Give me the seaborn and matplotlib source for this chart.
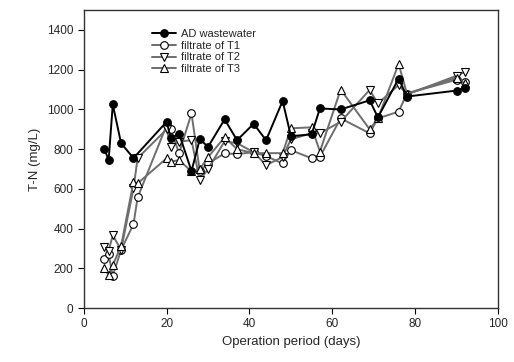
import numpy as np
import pandas as pd
import seaborn as sns
import matplotlib.pyplot as plt

# values
ad_days = [5, 6, 7, 9, 12, 20, 21, 23, 26, 28, 30, 34, 37, 41, 44, 48, 50, 55, 57, 62, 69, 71, 76, 78, 90, 92]
ad_tn   = [800, 745, 1025, 830, 755, 938, 855, 878, 690, 850, 812, 950, 845, 928, 845, 1043, 865, 875, 1005, 1000, 1046, 960, 1155, 1065, 1095, 1110]

t1_days = [5, 6, 7, 9, 12, 13, 20, 21, 23, 26, 28, 30, 34, 37, 41, 44, 48, 50, 55, 57, 62, 69, 71, 76, 78, 90, 92]
t1_tn   = [245, 270, 163, 292, 423, 557, 921, 900, 779, 980, 690, 728, 779, 775, 785, 765, 728, 795, 754, 762, 955, 880, 955, 989, 1080, 1150, 1140]

t2_days = [5, 6, 7, 9, 12, 13, 20, 21, 23, 26, 28, 30, 34, 37, 41, 44, 48, 50, 55, 57, 62, 69, 71, 76, 78, 90, 92]
t2_tn   = [307, 289, 367, 292, 603, 755, 900, 812, 838, 845, 644, 700, 840, 830, 785, 720, 760, 850, 880, 880, 938, 1098, 1030, 1123, 1075, 1170, 1190]

t3_days = [5, 6, 7, 9, 12, 13, 20, 21, 23, 26, 28, 30, 34, 37, 41, 44, 48, 50, 55, 57, 62, 69, 71, 76, 78, 90, 92]
t3_tn   = [200, 166, 216, 312, 636, 628, 754, 737, 745, 688, 700, 760, 860, 800, 780, 780, 780, 905, 910, 788, 1100, 900, 955, 1229, 1080, 1160, 1131]

series = [
    ("AD wastewater", ad_days, ad_tn, "o", "black", "black"),
    ("filtrate of T1", t1_days, t1_tn, "o", "white", "#6e6e6e"),
    ("filtrate of T2", t2_days, t2_tn, "v", "white", "#6e6e6e"),
    ("filtrate of T3", t3_days, t3_tn, "^", "white", "#6e6e6e"),
]

sns.set_style("ticks")
plt.rcParams['font.family'] = ['Liberation Sans', 'DejaVu Sans']

fig = plt.figure(figsize=(5.14, 3.62), dpi=100)
ax = fig.add_axes([0.163, 0.149, 0.806, 0.823])

# draw grey series first so the black one sits on top
for name, d, v, m, fc, lc in series[1:] + series[:1]:
    df = pd.DataFrame({"day": d, "tn": v})
    sns.lineplot(data=df, x="day", y="tn", ax=ax, color=lc, lw=1.4,
                 marker=m, markersize=5.5, markerfacecolor=fc,
                 markeredgecolor="black", markeredgewidth=0.8,
                 label=name, zorder=3 if name.startswith("AD") else 2)

handles, labels = ax.get_legend_handles_labels()
order = [labels.index(s[0]) for s in series]
ax.legend([handles[i] for i in order], [labels[i] for i in order],
          loc="upper left", bbox_to_anchor=(0.14, 0.97), frameon=False,
          fontsize=8, handlelength=2.2, handletextpad=0.4, labelspacing=0.15)

ax.set_xlim(0, 100)
ax.set_ylim(0, 1500)
ax.set_xticks(range(0, 101, 20))
ax.set_yticks(range(0, 1401, 200))
ax.tick_params(direction="out", length=4, width=0.8, labelsize=8.5, color="black")
for s in ax.spines.values():
    s.set_visible(True)
    s.set_color("#333333")
    s.set_linewidth(1.0)
ax.set_xlabel("Operation period (days)", fontsize=9.5)
ax.set_ylabel("T-N (mg/L)", fontsize=9.5)

plt.savefig("out.png", dpi=100)
